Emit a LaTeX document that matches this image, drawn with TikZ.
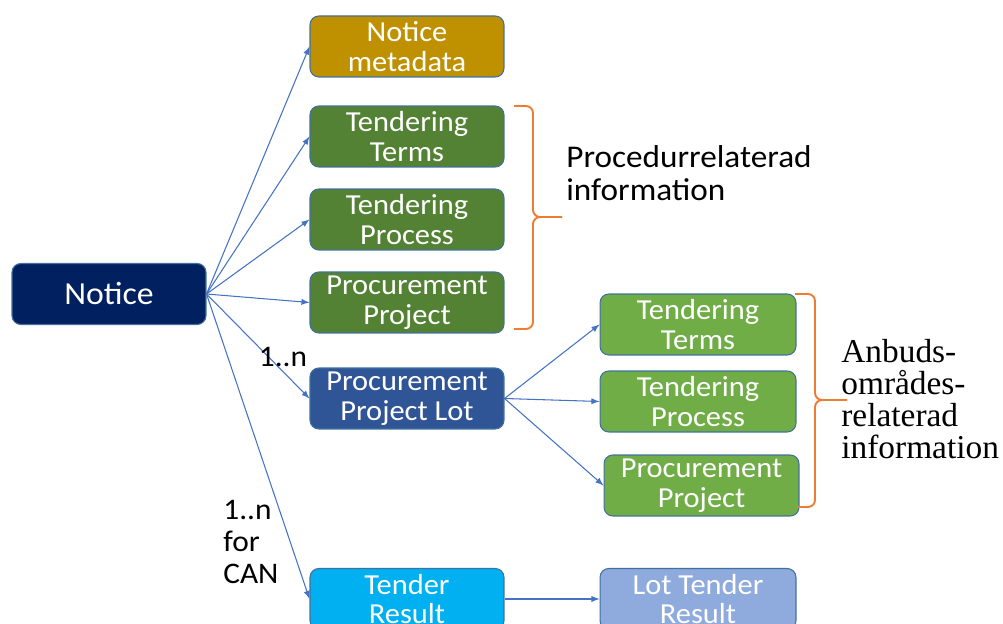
\documentclass[tikz,border=0pt]{standalone}
\usepackage{fontspec}
\setmainfont[FakeStretch=1.05]{Carlito}
\newfontfamily\serifnote{Liberation Serif}
\usetikzlibrary{arrows,positioning}
\definecolor{navy}{HTML}{002060}
\definecolor{gold}{HTML}{BF9000}
\definecolor{darkgreen}{HTML}{548235}
\definecolor{lightgreen}{HTML}{70AD47}
\definecolor{lotblue}{HTML}{2F5597}
\definecolor{skyblue}{HTML}{00B0F0}
\definecolor{paleblue}{HTML}{8FAADC}
\definecolor{edgeblue}{HTML}{41719C}
\definecolor{linkblue}{HTML}{4472C4}
\definecolor{braceorange}{HTML}{ED7D31}
\tikzset{
  box/.style={draw=edgeblue, line width=0.6pt, rounded corners=5pt, text=white,
    align=center, minimum width=3.88cm, minimum height=1.22cm, inner sep=0pt,
    font=\fontsize{16.5}{17}\selectfont},
  link/.style={-latex, draw=linkblue, line width=0.6pt},
  brace/.style={draw=braceorange, line width=1.1pt, rounded corners=4pt},
  note/.style={align=left, inner sep=0pt, font=\fontsize{18}{18.7}\selectfont}
}
\begin{document}
\begin{tikzpicture}[x=0.02cm,y=-0.02cm]
\useasboundingbox (0,0) rectangle (1003,624);
% left column
\node[box, fill=navy, font=\fontsize{18.3}{20}\selectfont] (N0) at (109,294) {Notice};
\node[box, fill=gold] (M1) at (407,46.5) {Notice\\metadata};
\node[box, fill=darkgreen] (M2) at (407,136.5) {Tendering\\Terms};
\node[box, fill=darkgreen] (M3) at (407,219.5) {Tendering\\Process};
\node[box, fill=darkgreen] (M4) at (407,302.5) {Procurement\\Project};
\node[box, fill=lotblue] (M5) at (407,398.5) {Procurement\\Project Lot};
\node[box, fill=skyblue] (M6) at (407,599) {Tender\\Result};
% right column
\node[box, fill=lightgreen, minimum width=3.92cm] (L1) at (698,324.5) {Tendering\\Terms};
\node[box, fill=lightgreen, minimum width=3.92cm] (L2) at (698,401.5) {Tendering\\Process};
\node[box, fill=lightgreen, minimum width=3.9cm] (L3) at (701.5,485.5) {Procurement\\Project};
\node[box, fill=paleblue, minimum width=3.92cm] (R1) at (698,599) {Lot Tender\\Result};
% links
\path [link] (N0.east) -- (M1.west);
\path [link] (N0.east) -- (M2.west);
\path [link] (N0.east) -- (M3.west);
\path [link] (N0.east) -- (M4.west);
\path [link] (N0.east) -- (M5.west);
\path [link] (N0.east) -- (M6.west);
\path [link] (M5.east) -- (L1.west);
\path [link] (M5.east) -- (L2.west);
\path [link] (M5.east) -- (L3.west);
\path [link] (M6.east) -- (R1.west);
% multiplicities
\node[note, font=\fontsize{17}{18}\selectfont] (k1) at (283,357) {1..n};
\node[note, anchor=west, font=\fontsize{17}{18.2}\selectfont] (k2) at (223,542) {1..n\\for\\CAN};
% braces
\path [brace] (514,106) -- (533,106) -- (533,217) -- (562,217);
\path [brace] (562,217) -- (533,217) -- (533,329) -- (514,329);
\path [brace] (795,294) -- (815,294) -- (815,400) -- (847,400);
\path [brace] (847,400) -- (815,400) -- (815,507) -- (797,507);
\node[note, anchor=west] (g1) at (566,173) {Procedurrelaterad\\information};
\node[note, anchor=west, font=\serifnote\fontsize{19}{18.3}\selectfont] (g2) at (841,399) {Anbuds-\\områdes-\\relaterad\\information};
\end{tikzpicture}
\end{document}
